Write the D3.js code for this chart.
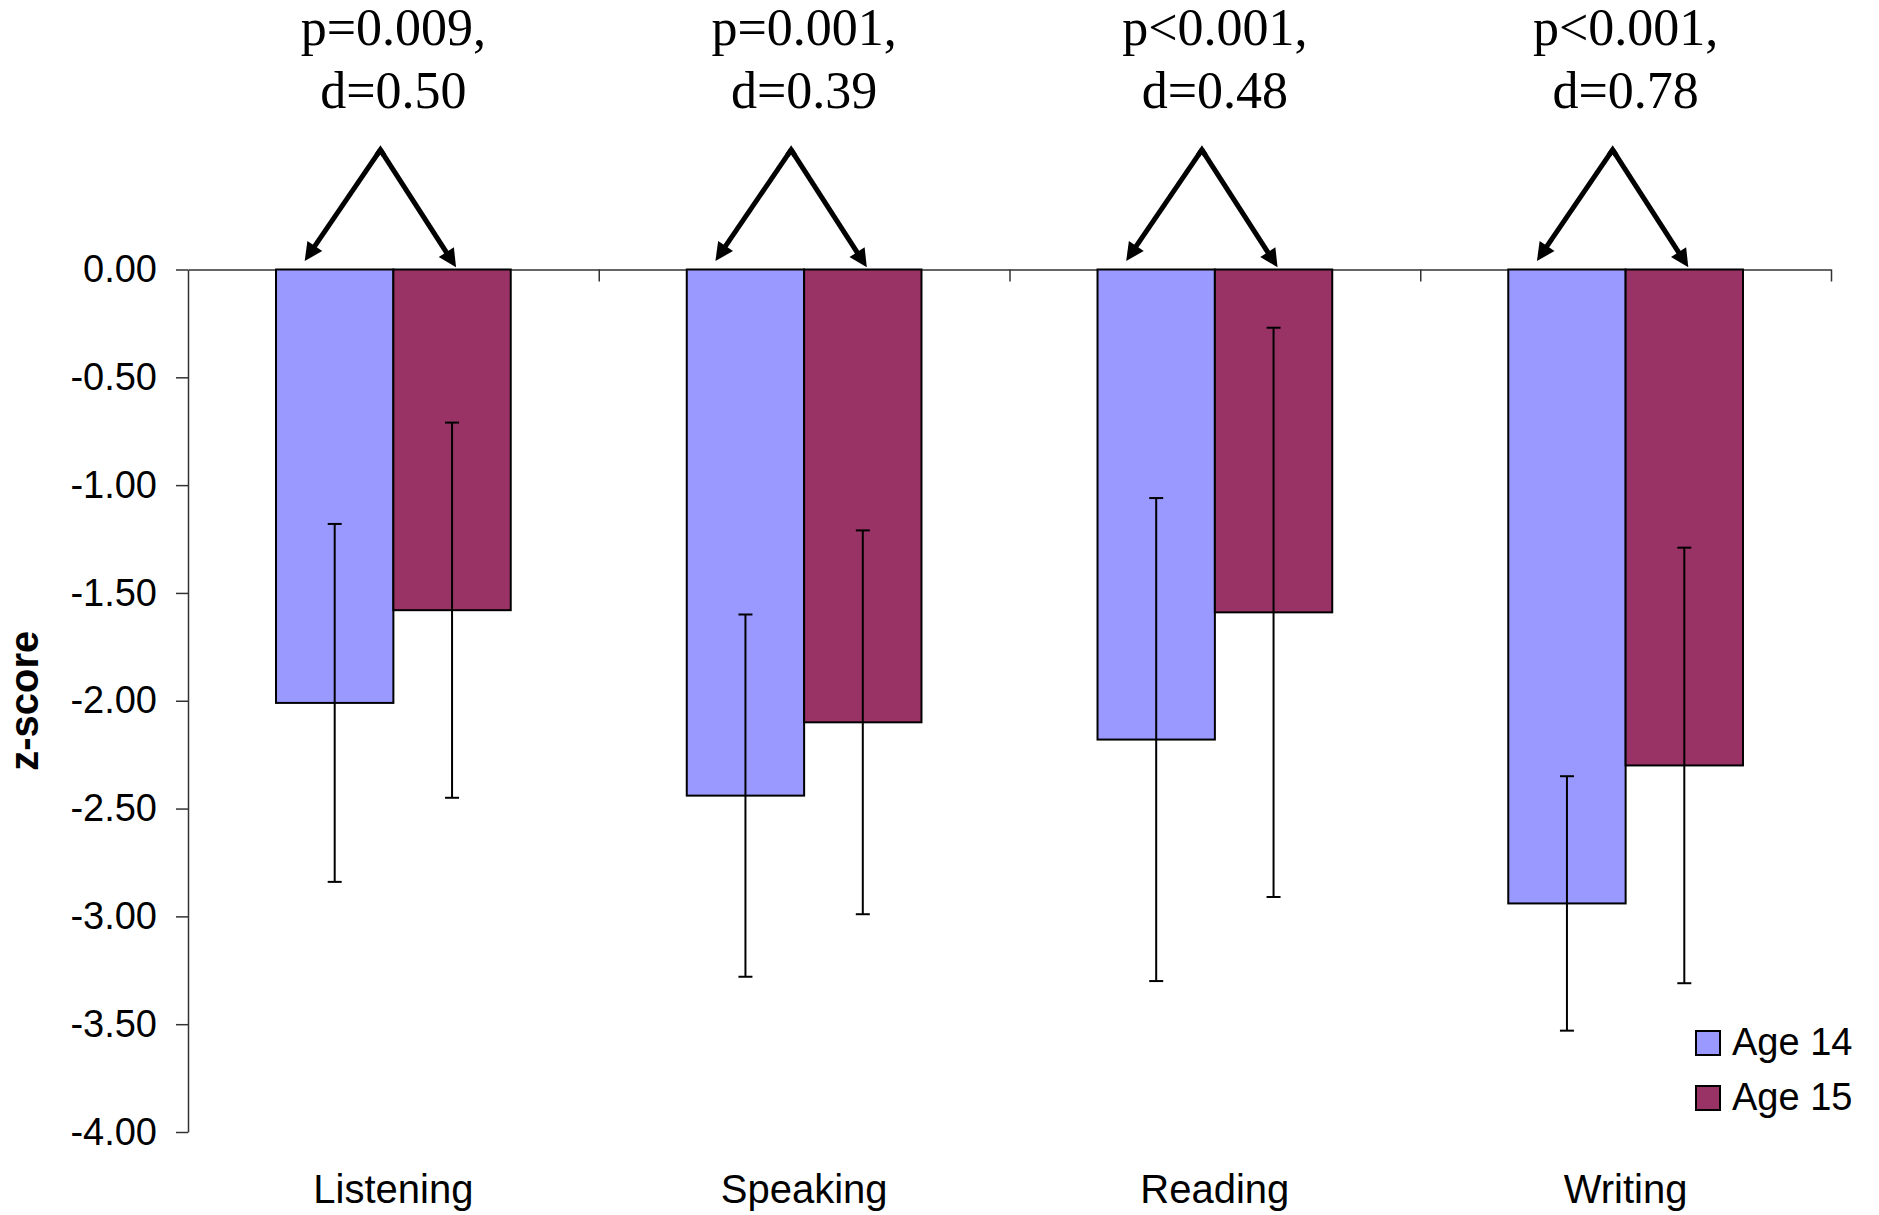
<!DOCTYPE html>
<html>
<head>
<meta charset="utf-8">
<script src="https://cdn.jsdelivr.net/npm/d3@7"></script>
<style>
  html, body { margin: 0; padding: 0; background: #ffffff; }
  svg { display: block; }
</style>
</head>
<body>
<svg id="chart" width="1879" height="1215"></svg>
<script>
// ---- data ----
const categories = ["Listening", "Speaking", "Reading", "Writing"];
const seriesNames = ["Age 14", "Age 15"];
const age14Mean = [-2.01, -2.44, -2.18, -2.94];
const age14Err  = [0.83, 0.84, 1.12, 0.59];
const age15Mean = [-1.58, -2.10, -1.59, -2.30];
const age15Err  = [0.87, 0.89, 1.32, 1.01];
const pLabels = ["p=0.009,", "p=0.001,", "p<0.001,", "p<0.001,"];
const dLabels = ["d=0.50", "d=0.39", "d=0.48", "d=0.78"];
const yTicks = [0, -0.5, -1, -1.5, -2, -2.5, -3, -3.5, -4];
const yTitle = "z-score";

// ---- layout ----
const colors = ["#9999FF", "#993366"];
const svg = d3.select("#chart");
const plotLeft = 188, plotRight = 1831, plotTop = 269.5, plotBottom = 1132;

const y = d3.scaleLinear().domain([-4, 0]).range([plotBottom, plotTop]);
const x = d3.scaleBand().domain(categories).range([plotLeft, plotRight]).paddingInner(0).paddingOuter(0);
const xs = d3.scaleBand().domain(seriesNames).range([0, x.bandwidth()]).paddingInner(0).paddingOuter(0.75);
const xBound = d3.scaleLinear().domain([0, categories.length]).range([plotLeft, plotRight]);

const rows = categories.map((c, i) => ({
  cat: c,
  vals: [
    { s: seriesNames[0], mean: age14Mean[i], err: age14Err[i] },
    { s: seriesNames[1], mean: age15Mean[i], err: age15Err[i] }
  ]
}));

// x axis (line at zero with category separators)
const xAxis = svg.append("g")
  .attr("transform", `translate(0,${y(0)})`)
  .call(d3.axisBottom(xBound).tickValues([1, 2, 3, 4]).tickFormat("").tickSize(12).tickSizeOuter(0));
xAxis.selectAll("path, line").attr("stroke", "#333").attr("stroke-width", 1.5);

// y axis
const yAxis = svg.append("g")
  .attr("transform", `translate(${plotLeft},0)`)
  .call(d3.axisLeft(y).tickValues(yTicks).tickFormat(d => d.toFixed(2)).tickSize(12).tickSizeOuter(0).tickPadding(19));
yAxis.selectAll("path, line").attr("stroke", "#333").attr("stroke-width", 1.5);
yAxis.selectAll("text")
  .attr("font-family", "'Liberation Sans', Arial, sans-serif")
  .attr("font-size", 38).attr("fill", "#000");

// bars
const groups = svg.selectAll("g.cat").data(rows).enter().append("g")
  .attr("class", "cat")
  .attr("transform", d => `translate(${x(d.cat)},0)`);

groups.selectAll("rect").data(d => d.vals).enter().append("rect")
  .attr("x", d => xs(d.s))
  .attr("y", y(0))
  .attr("width", xs.bandwidth())
  .attr("height", d => y(d.mean) - y(0))
  .attr("fill", (d, i) => colors[i])
  .attr("stroke", "#000")
  .attr("stroke-width", 2);

// error bars
const cap = 7;
const eb = groups.selectAll("g.err").data(d => d.vals).enter().append("g").attr("class", "err")
  .attr("stroke", "#000").attr("stroke-width", 2);
eb.append("line")
  .attr("x1", d => xs(d.s) + xs.bandwidth() / 2).attr("x2", d => xs(d.s) + xs.bandwidth() / 2)
  .attr("y1", d => y(d.mean + d.err)).attr("y2", d => y(d.mean - d.err));
eb.append("line")
  .attr("x1", d => xs(d.s) + xs.bandwidth() / 2 - cap).attr("x2", d => xs(d.s) + xs.bandwidth() / 2 + cap)
  .attr("y1", d => y(d.mean + d.err)).attr("y2", d => y(d.mean + d.err));
eb.append("line")
  .attr("x1", d => xs(d.s) + xs.bandwidth() / 2 - cap).attr("x2", d => xs(d.s) + xs.bandwidth() / 2 + cap)
  .attr("y1", d => y(d.mean - d.err)).attr("y2", d => y(d.mean - d.err));

// category labels
svg.selectAll("text.catlab").data(categories).enter().append("text")
  .attr("class", "catlab")
  .attr("x", d => x(d) + x.bandwidth() / 2)
  .attr("y", 1203)
  .attr("text-anchor", "middle")
  .attr("font-family", "'Liberation Sans', Arial, sans-serif")
  .attr("font-size", 40)
  .text(d => d);

// y title
svg.append("text")
  .attr("transform", `translate(38,${(plotTop + plotBottom) / 2}) rotate(-90)`)
  .attr("text-anchor", "middle")
  .attr("font-family", "'Liberation Sans', Arial, sans-serif")
  .attr("font-weight", "bold")
  .attr("font-size", 40)
  .text(yTitle);

// annotations (p, d) with arrows
const ann = svg.append("g");
categories.forEach((c, i) => {
  const cx = x(c) + x.bandwidth() / 2;
  ann.append("text").attr("x", cx).attr("y", 45).attr("text-anchor", "middle")
    .attr("font-family", "'Liberation Serif', 'Times New Roman', serif").attr("font-size", 52)
    .text(pLabels[i]);
  ann.append("text").attr("x", cx).attr("y", 108).attr("text-anchor", "middle")
    .attr("font-family", "'Liberation Serif', 'Times New Roman', serif").attr("font-size", 52)
    .text(dLabels[i]);

  const apex = [cx - 13, y(0.555)];
  const tips = [
    [x(c) + xs(seriesNames[0]) + xs.bandwidth() / 2 - 30, y(0.04)],
    [x(c) + xs(seriesNames[1]) + xs.bandwidth() / 2 + 4, y(0.01)]
  ];
  tips.forEach(t => {
    const dx = t[0] - apex[0], dy = t[1] - apex[1];
    const len = Math.hypot(dx, dy);
    const ux = dx / len, uy = dy / len;
    const headLen = 18, headHalf = 9;
    const bx = t[0] - ux * headLen, by = t[1] - uy * headLen;
    ann.append("line")
      .attr("x1", apex[0]).attr("y1", apex[1])
      .attr("x2", bx + ux * 2).attr("y2", by + uy * 2)
      .attr("stroke", "#000").attr("stroke-width", 5).attr("stroke-linecap", "butt");
    ann.append("path")
      .attr("d", d3.line()([
        [t[0], t[1]],
        [bx - uy * headHalf, by + ux * headHalf],
        [bx + uy * headHalf, by - ux * headHalf]
      ]) + "Z")
      .attr("fill", "#000");
  });
  // apex join
  ann.append("path")
    .attr("d", d3.line()([tips[0], apex, tips[1]].map((p, k) => k === 1 ? p : [apex[0] + (p[0] - apex[0]) * 0.05, apex[1] + (p[1] - apex[1]) * 0.05])))
    .attr("fill", "none").attr("stroke", "#000").attr("stroke-width", 5).attr("stroke-linejoin", "miter");
});

// legend
const legend = svg.append("g");
seriesNames.forEach((s, i) => {
  legend.append("rect")
    .attr("x", 1696).attr("y", 1031 + i * 55)
    .attr("width", 24).attr("height", 24)
    .attr("fill", colors[i]).attr("stroke", "#000").attr("stroke-width", 2);
  legend.append("text")
    .attr("x", 1732).attr("y", 1055 + i * 55)
    .attr("font-family", "'Liberation Sans', Arial, sans-serif")
    .attr("font-size", 38)
    .text(s);
});
</script>
</body>
</html>
